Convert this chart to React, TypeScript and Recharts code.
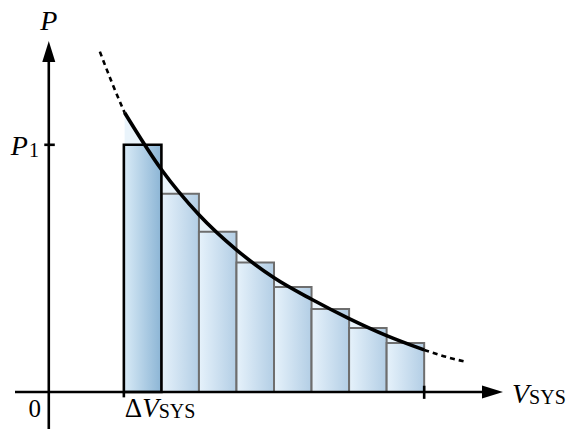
import { ComposedChart, Area, Line, XAxis, YAxis, ReferenceArea, ReferenceLine, ReferenceDot } from 'recharts';

// bars: left edge (in units of ΔV) and height
const barStart = [2, 3, 4, 5, 6, 7, 8, 9];
const barHeight = [10, 8.02, 6.48, 5.24, 4.25, 3.36, 2.59, 1.98];

// P(V) curve, solid part
const curveV = [2.02, 3, 4, 5, 6, 7, 8, 9, 10];
const curveP = [11.3, 9.0, 7.17, 5.75, 4.62, 3.75, 2.97, 2.28, 1.7];

// dashed continuations
const headV = [1.36, 1.7, 2.02];
const headP = [13.77, 12.45, 11.3];
const tailV = [10, 10.58, 11.14];
const tailP = [1.7, 1.42, 1.21];

const P1 = 10;

const curve = curveV.map((v, i) => ({ v, p: curveP[i] }));
const head = headV.map((v, i) => ({ v, p: headP[i] }));
const tail = tailV.map((v, i) => ({ v, p: tailP[i] }));

const serif = "'Liberation Serif', 'Times New Roman', serif";

// line with an arrowhead at the second point
const ArrowLine = (props: any) => {
  const { x1, y1, x2, y2 } = props;
  const dx = x2 - x1;
  const dy = y2 - y1;
  const len = Math.sqrt(dx * dx + dy * dy) || 1;
  const ux = dx / len;
  const uy = dy / len;
  const L = 21;
  const W = 6.5;
  const bx = x2 - ux * L;
  const by = y2 - uy * L;
  return (
    <g>
      <line x1={x1} y1={y1} x2={bx + ux * 2} y2={by + uy * 2} stroke="#000" strokeWidth={2.6} />
      <polygon
        points={`${x2},${y2} ${bx - uy * W},${by + ux * W} ${bx + uy * W},${by - ux * W}`}
        fill="#000"
      />
    </g>
  );
};

const labelP = (p: any) => (
  <text x={p.cx} y={p.cy - 11} textAnchor="middle" fontFamily={serif} fontSize={28} fontStyle="italic">
    P
  </text>
);

const labelP1 = (p: any) => (
  <text x={p.cx - 38} y={p.cy + 10} fontFamily={serif} fontSize={28}>
    <tspan fontStyle="italic">P</tspan>
    <tspan fontSize={20} dx={1} dy={2}>1</tspan>
  </text>
);

const labelV = (p: any) => (
  <text x={p.cx + 9} y={p.cy + 11} fontFamily={serif} fontSize={28}>
    <tspan fontStyle="italic">V</tspan>
    <tspan fontSize={20} dy={1}>SYS</tspan>
  </text>
);

const labelZero = (p: any) => (
  <text x={p.cx - 14} y={p.cy + 25} textAnchor="middle" fontFamily={serif} fontSize={25}>
    0
  </text>
);

const labelDV = (p: any) => (
  <text x={p.cx + 1} y={p.cy + 25} fontFamily={serif} fontSize={27}>
    <tspan>Δ</tspan>
    <tspan fontStyle="italic">V</tspan>
    <tspan fontSize={20} dy={1}>SYS</tspan>
  </text>
);

export default function App() {
  return (
    <div style={{ position: 'absolute', left: 0, top: 0, background: '#fff' }}>
      <ComposedChart width={569} height={429} margin={{ top: 41, right: 66, bottom: 0, left: 15 }}>
        <defs>
          <linearGradient id="barGrad" x1="0" y1="0" x2="1" y2="0">
            <stop offset="0%" stopColor="#e6f2fb" />
            <stop offset="100%" stopColor="#b3cee5" />
          </linearGradient>
          <linearGradient id="firstGrad" x1="0" y1="0" x2="1" y2="0">
            <stop offset="0%" stopColor="#d9ebf7" />
            <stop offset="100%" stopColor="#8cb5d5" />
          </linearGradient>
        </defs>
        <XAxis type="number" dataKey="v" domain={[-0.9, 12.1]} allowDataOverflow hide />
        <YAxis type="number" domain={[-1.5, 14.2]} allowDataOverflow hide />

        <Area
          data={curve}
          dataKey="p"
          type="monotone"
          baseValue={0}
          fill="#eaf4fb"
          fillOpacity={1}
          stroke="none"
          isAnimationActive={false}
        />

        {barStart.slice(1).map((s, i) => (
          <ReferenceArea
            key={s}
            x1={s}
            x2={s + 1}
            y1={0}
            y2={barHeight[i + 1]}
            fill="url(#barGrad)"
            fillOpacity={1}
            stroke="#6e6e6e"
            strokeWidth={2}
            ifOverflow="visible"
          />
        ))}
        <ReferenceArea
          x1={barStart[0]}
          x2={barStart[0] + 1}
          y1={0}
          y2={barHeight[0]}
          fill="url(#firstGrad)"
          fillOpacity={1}
          stroke="#000"
          strokeWidth={2.6}
          ifOverflow="visible"
        />

        <Line data={curve} dataKey="p" type="monotone" stroke="#000" strokeWidth={3.6} dot={false} isAnimationActive={false} />
        <Line data={head} dataKey="p" type="monotone" stroke="#000" strokeWidth={2.6} strokeDasharray="5 4" dot={false} isAnimationActive={false} />
        <Line data={tail} dataKey="p" type="monotone" stroke="#000" strokeWidth={2.6} strokeDasharray="5 4" dot={false} isAnimationActive={false} />

        <ReferenceLine segment={[{ x: -0.9, y: 0 }, { x: 12.1, y: 0 }]} shape={ArrowLine} ifOverflow="visible" />
        <ReferenceLine segment={[{ x: 0, y: -1.5 }, { x: 0, y: 14.2 }]} shape={ArrowLine} ifOverflow="visible" />
        <ReferenceLine segment={[{ x: -0.12, y: P1 }, { x: 0.16, y: P1 }]} stroke="#000" strokeWidth={2.6} ifOverflow="visible" />
        <ReferenceLine segment={[{ x: 10, y: 0.25 }, { x: 10, y: -0.28 }]} stroke="#000" strokeWidth={2.6} ifOverflow="visible" />
        <ReferenceLine segment={[{ x: 2, y: 0 }, { x: 2, y: -0.22 }]} stroke="#000" strokeWidth={2.6} ifOverflow="visible" />

        <ReferenceDot x={0} y={14.2} r={0} shape={labelP} ifOverflow="visible" />
        <ReferenceDot x={0} y={P1} r={0} shape={labelP1} ifOverflow="visible" />
        <ReferenceDot x={12.1} y={0} r={0} shape={labelV} ifOverflow="visible" />
        <ReferenceDot x={0} y={0} r={0} shape={labelZero} ifOverflow="visible" />
        <ReferenceDot x={2} y={0} r={0} shape={labelDV} ifOverflow="visible" />
      </ComposedChart>
    </div>
  );
}
